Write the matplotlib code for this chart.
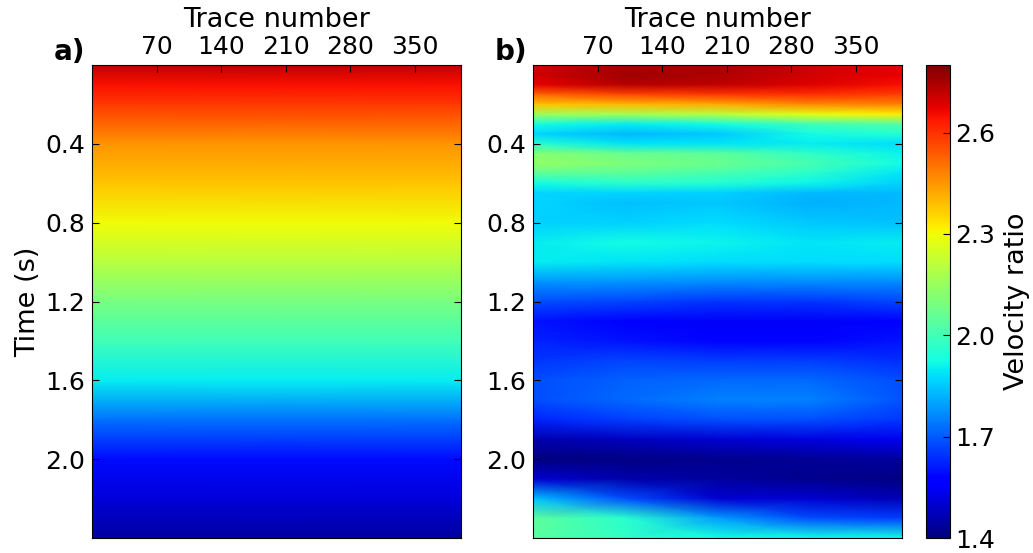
import numpy as np
from matplotlib import pyplot as plt

W, H = 1033, 553

# trend model, panel a)
model_time = [0.0, 0.1, 0.2, 0.4, 0.6, 0.8, 1.0, 1.2, 1.4, 1.6, 1.8, 2.0, 2.2, 2.4]
model_vel = [2.72, 2.65, 2.59, 2.45, 2.38, 2.30, 2.20, 2.09, 2.00, 1.90, 1.73, 1.59, 1.51, 1.44]

# inverted section, panel b)
traces = [0, 100, 200, 300, 400]
times = [0.0, 0.05, 0.1, 0.15, 0.2, 0.25, 0.3, 0.35, 0.4, 0.45, 0.5, 0.55, 0.6, 0.65, 0.7,
         0.8, 0.9, 1.0, 1.1, 1.2, 1.3, 1.4, 1.5, 1.6, 1.7, 1.8, 1.9, 2.0, 2.1, 2.2, 2.3, 2.4]
vel_ratio = [
    [2.69, 2.74, 2.74, 2.70, 2.67],
    [2.70, 2.76, 2.74, 2.70, 2.67],
    [2.67, 2.73, 2.72, 2.68, 2.65],
    [2.52, 2.57, 2.59, 2.60, 2.58],
    [2.38, 2.40, 2.42, 2.47, 2.48],
    [2.16, 2.17, 2.20, 2.28, 2.32],
    [1.93, 1.90, 1.92, 2.00, 2.03],
    [1.87, 1.83, 1.85, 1.92, 1.95],
    [1.96, 1.89, 1.89, 1.90, 1.88],
    [2.12, 2.07, 2.05, 1.97, 1.91],
    [2.14, 2.10, 2.07, 2.01, 1.92],
    [2.05, 2.04, 2.01, 1.96, 1.89],
    [1.92, 1.96, 1.95, 1.91, 1.86],
    [1.87, 1.87, 1.86, 1.83, 1.83],
    [1.87, 1.84, 1.85, 1.82, 1.83],
    [1.86, 1.86, 1.88, 1.85, 1.84],
    [1.90, 1.92, 1.91, 1.89, 1.90],
    [1.90, 1.89, 1.88, 1.88, 1.88],
    [1.78, 1.78, 1.77, 1.77, 1.77],
    [1.68, 1.67, 1.65, 1.65, 1.67],
    [1.60, 1.57, 1.55, 1.55, 1.58],
    [1.62, 1.60, 1.58, 1.58, 1.60],
    [1.65, 1.67, 1.66, 1.66, 1.64],
    [1.68, 1.71, 1.72, 1.72, 1.68],
    [1.68, 1.72, 1.75, 1.75, 1.69],
    [1.62, 1.66, 1.68, 1.68, 1.65],
    [1.46, 1.48, 1.50, 1.52, 1.54],
    [1.40, 1.41, 1.42, 1.43, 1.44],
    [1.50, 1.46, 1.44, 1.42, 1.41],
    [1.84, 1.68, 1.50, 1.50, 1.47],
    [2.05, 1.96, 1.79, 1.68, 1.66],
    [2.04, 1.97, 1.93, 1.92, 1.92],
]

xticks = [70, 140, 210, 280, 350]
yticks = [0.4, 0.8, 1.2, 1.6, 2.0]
cbar_ticks = [1.4, 1.7, 2.0, 2.3, 2.6]

plt.rcParams['font.family'] = 'DejaVu Sans'
plt.rcParams['font.size'] = 18
LABEL_SIZE = 19.5


def make_axes(x0, x1, y0=65, y1=538):
    return fig.add_axes([x0 / W, (H - y1) / H, (x1 - x0) / W, (y1 - y0) / H])


def style_section(ax, label):
    ax.set_xlim(0, 400)
    ax.set_ylim(2.4, 0)
    ax.set_xticks(xticks)
    ax.set_yticks(yticks)
    ax.set_yticklabels(['%.1f' % t for t in yticks])
    ax.xaxis.tick_top()
    ax.xaxis.set_label_position('top')
    ax.tick_params(axis='x', direction='in', length=5, width=0.8, top=True, bottom=False, pad=4)
    ax.tick_params(axis='y', direction='in', length=5, width=0.8, left=True, right=True, pad=5)
    ax.set_xlabel('Trace number', fontsize=LABEL_SIZE, labelpad=6)
    ax.text(-0.103, 0.998, label, transform=ax.transAxes, fontweight='bold', fontsize=20, va='bottom', ha='left')


fig = plt.figure(figsize=(W / 100, H / 100), dpi=100)

ax1 = make_axes(92, 461)
model = np.tile(np.array(model_vel), (2, 1)).T
im = ax1.pcolormesh([0, 400], model_time, model, cmap='jet', vmin=1.4, vmax=2.8, shading='gouraud')
style_section(ax1, 'a)')
ax1.set_ylabel('Time (s)', fontsize=LABEL_SIZE, labelpad=3)

ax2 = make_axes(533, 902)
ax2.pcolormesh(traces, times, np.array(vel_ratio), cmap='jet', vmin=1.4, vmax=2.8, shading='gouraud')
style_section(ax2, 'b)')

cax = make_axes(926, 950)
cbar = fig.colorbar(im, cax=cax)
cbar.set_ticks(cbar_ticks)
cbar.set_ticklabels(['%.1f' % v for v in cbar_ticks])
cax.tick_params(direction='in', length=5, width=0.8, pad=4)
cbar.set_label('Velocity ratio', fontsize=LABEL_SIZE, labelpad=6)

plt.savefig('out.png', dpi=100)
